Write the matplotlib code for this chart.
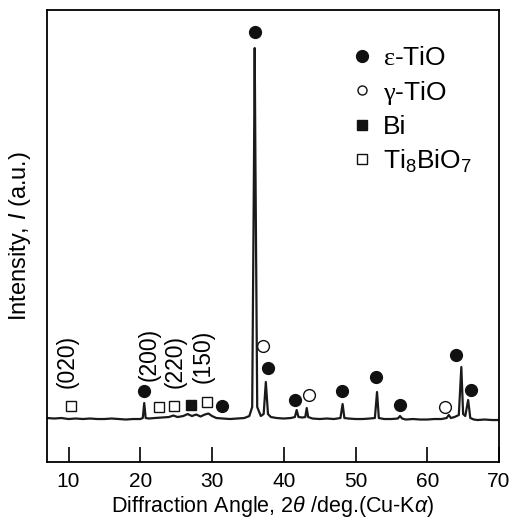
import matplotlib
matplotlib.use("Agg")
import matplotlib.pyplot as plt
from matplotlib.lines import Line2D

plt.rcParams['font.family'] = ['Liberation Sans', 'DejaVu Sans']
plt.rcParams['mathtext.fontset'] = 'custom'
plt.rcParams['mathtext.rm'] = 'Liberation Serif'
plt.rcParams['mathtext.it'] = 'Liberation Sans:italic'
plt.rcParams['mathtext.sf'] = 'Liberation Sans'

# XRD pattern (2theta in deg, intensity in arbitrary units)
two_theta = [7.0, 8.0, 9.0, 10.0, 11.0, 12.0, 13.0, 14.0, 15.0, 16.0, 17.0, 18.0, 19.0,
             20.0, 20.35, 20.55, 20.75, 21.2, 22.0, 23.0, 24.0, 24.6, 25.2, 26.0, 26.6,
             27.2, 27.8, 28.4, 29.0, 29.5, 30.0, 30.6, 31.5, 32.5, 33.5, 34.5, 35.2,
             35.6, 35.85, 35.95, 36.05, 36.3, 36.8, 37.2, 37.5, 37.8, 38.2, 39.0, 40.0,
             41.0, 41.55, 41.8, 42.05, 42.6, 43.0, 43.2, 43.4, 44.0, 45.0, 46.0, 47.0,
             47.9, 48.2, 48.45, 49.0, 50.0, 51.0, 52.0, 52.7, 53.0, 53.25, 54.0, 55.0,
             55.9, 56.2, 56.5, 57.0, 58.0, 59.0, 60.0, 61.0, 62.0, 62.7, 63.0, 63.3,
             63.8, 64.4, 64.75, 65.0, 65.3, 65.7, 66.0, 66.5, 67.0, 68.0, 69.0, 70.0]
intensity = [44, 43.5, 44, 43, 43.5, 43, 43.5, 43, 43, 43.5, 43, 42.5, 43,
             43, 44, 59, 44, 43.5, 44, 44.5, 45, 46.5, 45, 46, 48,
             46, 47.5, 45.5, 47.5, 48.5, 46, 44, 43.5, 43, 43.5, 44, 46,
             55, 300, 414, 300, 55, 46, 48, 80, 48, 45, 44, 43.5,
             44, 45, 52, 45, 44.5, 45, 54, 45, 43.5, 43, 43.5, 43,
             44, 58, 44, 43.5, 43, 43, 43.5, 44, 70, 44, 43, 43,
             43.5, 46, 43.5, 42.5, 43, 42.5, 42.5, 43, 43, 44, 47, 44,
             45, 47, 95, 48, 46, 62, 44, 42.5, 42, 42.5, 42, 42]

# phase markers
eps_x = [20.47, 31.35, 35.95, 37.77, 41.53, 48.09, 52.84, 56.19, 64.0, 66.09]
eps_y = [71, 56, 430, 94, 62, 71, 85, 57, 107, 72]
gam_x = [37.07, 43.49, 62.47]
gam_y = [116, 67, 55]
bi_x = [27.02]
bi_y = [57]
tbo_x = [10.28, 22.56, 24.65, 29.26]
tbo_y = [56, 55, 56, 60]

# Miller indices
hkl_labels = ['(020)', '(200)', '(220)', '(150)']
hkl_x = [9.86, 21.3, 24.8, 28.7]
hkl_y = [101, 108, 101, 106]

fig = plt.figure(figsize=(5.11, 5.23), dpi=100)
ax = fig.add_axes([0.092, 0.1166, 0.8845, 0.8642])

ax.plot(two_theta, intensity, color='#1a1a1a', lw=1.6)

ax.plot(eps_x, eps_y, 'o', color='#111111', ms=8.5, ls='none')
ax.plot(gam_x, gam_y, 'o', mfc='white', mec='#111111', mew=1.0, ms=8.5, ls='none')
ax.plot(bi_x, bi_y, 's', color='#111111', ms=7.5, ls='none')
ax.plot(tbo_x, tbo_y, 's', mfc='white', mec='#111111', mew=1.0, ms=7.5, ls='none')

for lab, x, y in zip(hkl_labels, hkl_x, hkl_y):
    ax.text(x, y, lab, rotation=90, ha='center', va='center', fontsize=16.5)

handles = [
    Line2D([], [], marker='o', color='#111111', ls='none', ms=8.5),
    Line2D([], [], marker='o', mfc='white', mec='#111111', mew=1.0, ls='none', ms=6.5),
    Line2D([], [], marker='s', color='#111111', ls='none', ms=6.5),
    Line2D([], [], marker='s', mfc='white', mec='#111111', mew=1.0, ls='none', ms=7.5),
]
labels = [r'$\mathrm{\varepsilon}$-TiO', r'$\mathrm{\gamma}$-TiO', 'Bi',
          r'Ti$_\mathsf{8}$BiO$_\mathsf{7}$']
ax.legend(handles, labels, loc='upper left', bbox_to_anchor=(0.673, 0.92),
          frameon=False, fontsize=19, handlelength=0.8, handletextpad=0.4,
          labelspacing=0.32, borderpad=0, borderaxespad=0)

ax.set_xlim(7, 70)
ax.set_ylim(0, 452)
ax.set_xticks([10, 20, 30, 40, 50, 60, 70])
ax.set_yticks([])
ax.tick_params(axis='x', direction='in', length=11, width=1.2, labelsize=15, pad=7)
for s in ax.spines.values():
    s.set_linewidth(1.3)

ax.set_xlabel(r'Diffraction Angle, 2$\it{\theta}$ /deg.(Cu-K$\it{\alpha}$)', fontsize=15.5, labelpad=2)
ax.set_ylabel(r'Intensity, $\it{I}$ (a.u.)', fontsize=17, labelpad=10)

fig.savefig('out.png', dpi=100)
